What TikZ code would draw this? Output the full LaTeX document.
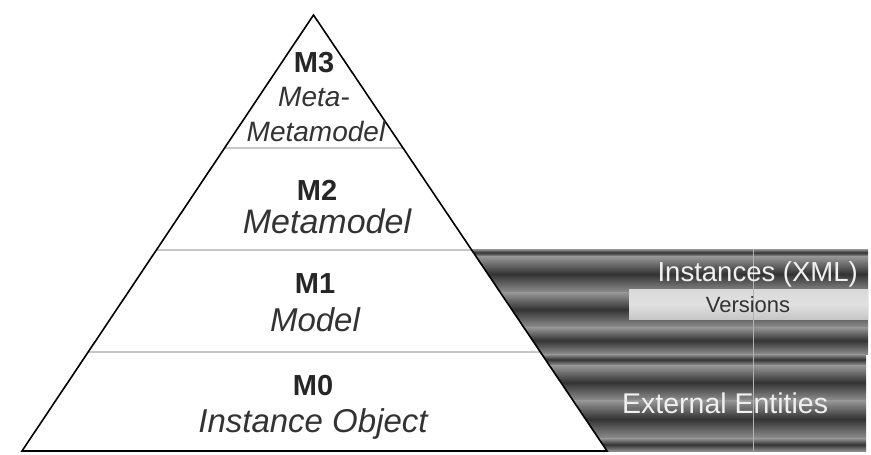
\documentclass[tikz,border=0pt]{standalone}
\usepackage{fontspec}
\setmainfont{Liberation Sans}
\begin{document}
\begin{tikzpicture}[x=1pt,y=-1pt,
  lvl/.style={font=\fontsize{29}{29}\selectfont\bfseries, text=black!85, inner sep=0pt, anchor=base},
  lvlname/.style={font=\fontsize{33}{33}\selectfont\itshape, text=black!80, inner sep=0pt, anchor=base},
  lvlnamesmall/.style={font=\fontsize{28}{28}\selectfont\itshape, text=black!80, inner sep=0pt, anchor=base},
  sidetext/.style={text=white!94!black, inner sep=0pt},
  divider/.style={draw=black!22, line width=1.3pt},
  band/.style={top color=black!40, bottom color=black!45, middle color=black!80}
]
\useasboundingbox (0,0) rectangle (871,455);
% striped background of the right block
\shade[band] (465,249) rectangle (868,256);
\shade[band] (465,256) rectangle (868,292);
\shade[band] (465,292) rectangle (868,327);
\shade[band] (465,327) rectangle (868,354);
\shade[band] (465,354) rectangle (866,365);
\shade[band] (465,365) rectangle (866,400);
\shade[band] (465,400) rectangle (866,438);
\shade[band] (465,438) rectangle (866,451);
% versions strip
\shade[top color=black!15, bottom color=black!22, middle color=black!12] (629,289) rectangle (868,319);
\draw[white!70!black, line width=0.6pt] (753,249) -- (753,451);
% pyramid
\coordinate (apex) at (313.5,15);
\coordinate (bl) at (22,451);
\coordinate (br) at (607,451);
\fill[white] (apex) -- (bl) -- (br) -- cycle;
% dividers
\draw[divider] (224.4,148) -- (403.0,148);
\draw[divider] (156.1,250) -- (471.7,250);
\draw[divider] (87.8,352) -- (540.4,352);
\draw[black, line width=1.6pt, line join=miter] (apex) -- (bl) -- (br) -- cycle;
% texts
\node[lvl] (m3) at (314,72) {M3};
\node[lvlnamesmall] (m3a) at (314,106) {Meta-};
\node[lvlnamesmall] (m3b) at (316,141) {Metamodel};
\node[lvl] (m2) at (317,200) {M2};
\node[lvlname, font=\fontsize{34}{34}\selectfont\itshape] (m2a) at (327,233) {Metamodel};
\node[lvl] (m1) at (315,293) {M1};
\node[lvlname] (m1a) at (315,331) {Model};
\node[lvl] (m0) at (313,395) {M0};
\node[lvlname] (m0a) at (313,432) {Instance Object};
\node[sidetext, anchor=base east, font=\fontsize{27.5}{27.5}\selectfont] (inst) at (858,281) {Instances (XML)};
\node[inner sep=0pt, anchor=base, text=black!80, font=\fontsize{22}{22}\selectfont] (ver) at (748,312) {Versions};
\node[sidetext, anchor=base west, font=\fontsize{28.5}{28.5}\selectfont] (ext) at (622,413) {External Entities};
\end{tikzpicture}
\end{document}
